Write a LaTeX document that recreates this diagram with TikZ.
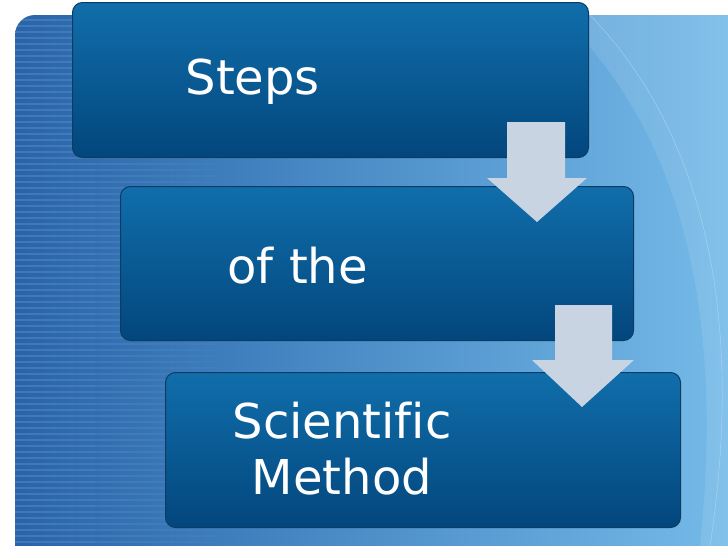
\documentclass[tikz,border=0pt]{standalone}
\usepackage{fontspec}
\setmainfont[Ligatures=NoCommon]{DejaVu Sans}
\definecolor{btop}{RGB}{16,110,170}
\definecolor{bbot}{RGB}{3,70,125}
\definecolor{bedge}{RGB}{10,60,100}
\definecolor{bgl}{RGB}{40,100,170}
\definecolor{bgr}{RGB}{120,190,235}
\definecolor{arrc}{RGB}{200,212,226}
\begin{document}
\begin{tikzpicture}[x=1pt,y=-1pt,
  stepbox/.style={rounded corners=10pt,top color=btop,bottom color=bbot,draw=bedge,line width=1pt},
  arr/.style={fill=arrc,draw=none},
  lab/.style={text=white,anchor=west,font=\fontsize{48}{56}\selectfont,align=center}]
\useasboundingbox (0,0) rectangle (728,546);
\fill[white] (0,0) rectangle (728,546);
\shade[rounded corners=20pt,left color=bgl,right color=bgr] (15,15) rectangle (760,580);
\begin{scope}
\clip[rounded corners=20pt] (15,15) rectangle (760,580);
\foreach \y in {20,26,...,546} \foreach \k in {0,...,9} \draw[white,opacity=0.13-0.012*\k,line width=1.5pt] (15+20*\k,\y) -- (35+20*\k,\y);
\fill[white,opacity=0.10] (560,15) .. controls (700,150) and (720,350) .. (700,546) -- (728,546) -- (728,15) -- cycle;
\draw[white,opacity=0.35] (590,15) .. controls (720,150) and (740,350) .. (710,546);
\end{scope}
\node[stepbox,minimum width=516pt,minimum height=155pt,anchor=north west] (b1) at (72,2) {};
\node[stepbox,minimum width=513pt,minimum height=154pt,anchor=north west] (b2) at (120,186) {};
\node[stepbox,minimum width=515pt,minimum height=155pt,anchor=north west] (b3) at (165,372) {};
\node[lab] (t1) at (182,82) {Steps};
\node[lab] (t2) at (224,266) {of the};
\node[lab] (t3) at (229,449) {Scientific\\Method};
\fill[arr] (507,122) -- (565,122) -- (565,178) -- (587,178) -- (537,222) -- (487,178) -- (507,178) -- cycle;
\fill[arr] (555,305) -- (612,305) -- (612,360) -- (634,360) -- (582,407) -- (532,360) -- (555,360) -- cycle;
\end{tikzpicture}
\end{document}
